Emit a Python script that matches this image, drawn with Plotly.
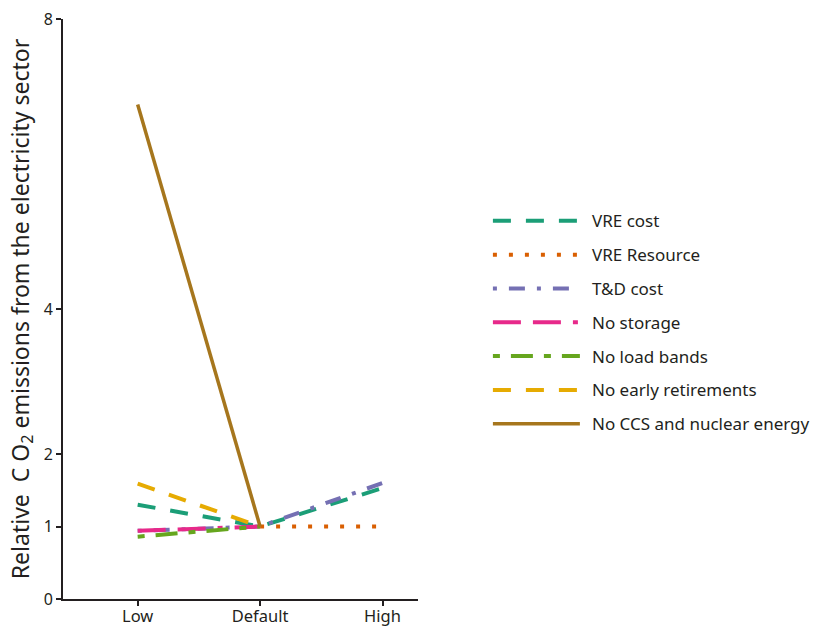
import plotly.graph_objects as go

categories = ["Low", "Default", "High"]
series_names = ["VRE cost", "VRE Resource", "T&D cost", "No storage",
                "No load bands", "No early retirements", "No CCS and nuclear energy"]
vre_cost = [1.30, 1.0, 1.53]
vre_resource = [None, 1.0, 1.0]
td_cost = [0.94, 1.0, 1.60]
no_storage = [0.94, 1.0, None]
no_load_bands = [0.86, 1.0, None]
no_early_retirements = [1.59, 1.0, None]
no_ccs_nuclear = [6.82, 1.0, None]
y_ticks = [0, 1, 2, 4, 8]

values = [vre_cost, vre_resource, td_cost, no_storage, no_load_bands,
          no_early_retirements, no_ccs_nuclear]
colors = ["#1b9e77", "#d95f02", "#7570b3", "#e7298a", "#66a61e", "#e6ab02", "#a6761d"]
dashes = ["18px,15px", "4px,12px", "4px,12px,16px,12px",
          "28px,12px,28px,12px,5px,12px", "7px,11px,22px,11px",
          "18px,15px", "solid"]
widths = [4, 4, 4, 4, 4, 4, 3.5]

FONT = "Noto Sans"
TXT = "#231f20"
x_idx = list(range(len(categories)))

fig = go.Figure()
for name, vals, c, d, w in zip(series_names, values, colors, dashes, widths):
    fig.add_trace(go.Scatter(x=x_idx, y=vals, mode="lines", name=name,
                             line=dict(color=c, dash=d, width=w),
                             connectgaps=False, showlegend=False))

# custom legend (long line samples)
shapes = []
annotations = []
top = 0.652
step = 0.0583
for i, (name, c, d, w) in enumerate(zip(series_names, colors, dashes, widths)):
    yy = top - i * step
    shapes.append(dict(type="line", xref="paper", yref="paper",
                       x0=1.211, x1=1.456, y0=yy, y1=yy,
                       line=dict(color=c, dash=d, width=w)))
    annotations.append(dict(xref="paper", yref="paper", x=1.484, y=yy,
                            text=name, showarrow=False, xanchor="left",
                            yanchor="middle",
                            font=dict(family=FONT, size=17, color=TXT)))

fig.update_layout(
    width=814, height=626,
    margin=dict(l=63, r=396, t=19, b=27),
    paper_bgcolor="white", plot_bgcolor="white",
    font=dict(family=FONT, color=TXT),
    shapes=shapes, annotations=annotations,
    xaxis=dict(range=[-0.61, 2.29], tickvals=x_idx, ticktext=categories,
               automargin=False,
               showgrid=False, zeroline=False, showline=True,
               linecolor=TXT, linewidth=2, ticks="outside",
               ticklen=5, tickwidth=1.5, tickcolor=TXT,
               ticklabelstandoff=-4,
               tickfont=dict(family=FONT, size=16.5, color=TXT)),
    yaxis=dict(range=[0, 8], tickvals=y_ticks, ticktext=[str(t) for t in y_ticks],
               automargin=False,
               showgrid=False, zeroline=False, showline=True,
               linecolor=TXT, linewidth=2, ticks="outside",
               ticklen=5, tickwidth=1.5, tickcolor=TXT,
               tickfont=dict(family=FONT, size=16, color=TXT),
               title=dict(text="Relative&nbsp;&nbsp;C O<sub>2</sub> emissions from the electricity sector",
                          font=dict(family=FONT, size=23, color=TXT),
                          standoff=8)),
)

fig.write_html("out.html", config={"displayModeBar": False},
               post_script="document.body.style.margin='0';")
